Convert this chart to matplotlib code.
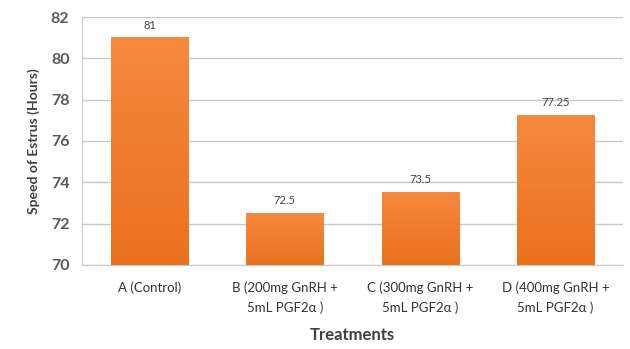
import matplotlib.pyplot as plt
import numpy as np
from matplotlib.colors import LinearSegmentedColormap

treatments = ['A (Control)', 'B (200mg GnRH +\n5mL PGF2\u03b1 )',
              'C (300mg GnRH +\n5mL PGF2\u03b1 )', 'D (400mg GnRH +\n5mL PGF2\u03b1 )']
speed = [81, 72.5, 73.5, 77.25]
value_labels = ['81', '72.5', '73.5', '77.25']

plt.rcParams['font.family'] = ['Lato', 'DejaVu Sans']

fig = plt.figure(figsize=(6.3, 3.49), dpi=100)
ax = fig.add_axes([0.130, 0.241, 0.859, 0.710])

x = np.arange(len(treatments))
bars = ax.bar(x, speed, width=0.57, color='#F07D2C', zorder=3)

# soft vertical gradient on each bar
grad = np.linspace(0, 1, 100).reshape(-1, 1)
cmap = LinearSegmentedColormap.from_list('o', ['#EA721E', '#F68840'])
for b in bars:
    x0, w, h = b.get_x(), b.get_width(), b.get_height()
    ax.imshow(grad, extent=[x0, x0 + w, 70, h], origin='lower', cmap=cmap,
              aspect='auto', zorder=3)
    b.set_alpha(0)

for xi, v, lab in zip(x, speed, value_labels):
    ax.text(xi, v + 0.35, lab, ha='center', va='bottom', fontsize=8, color='#404040')

ax.set_xlim(-0.5, 3.5)
ax.set_ylim(70, 82)
ax.set_yticks([70, 72, 74, 76, 78, 80, 82])
ax.set_xticks(x)
ax.set_xticklabels(treatments, fontsize=9.5, color='#333333', linespacing=1.7)
ax.tick_params(axis='y', labelsize=11.5, labelcolor='#595959', length=0, pad=9)
for t in ax.get_yticklabels():
    t.set_fontweight('bold')
ax.tick_params(axis='x', length=0, pad=12)

ax.grid(axis='y', color='#C8C8C8', linewidth=1, zorder=0)
for s in ['top', 'right']:
    ax.spines[s].set_visible(False)
ax.spines['left'].set_color('#C8C8C8')
ax.spines['bottom'].set_color('#C8C8C8')

ax.set_ylabel('Speed of Estrus (Hours)', fontsize=10, fontweight='bold', color='#404040', labelpad=8)
ax.set_xlabel('Treatments', fontsize=12, fontweight='bold', color='#404040', labelpad=9)

fig.savefig('out.png', dpi=100)
